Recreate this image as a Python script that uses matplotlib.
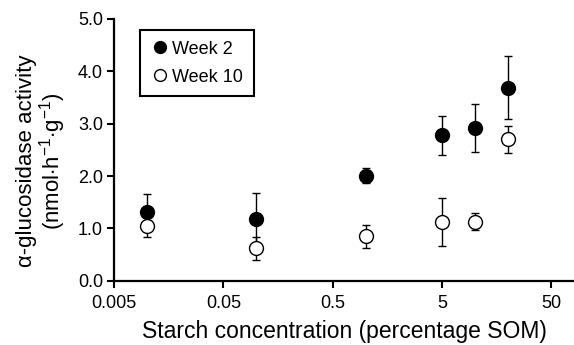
import matplotlib
matplotlib.use("Agg")
import matplotlib.pyplot as plt
from matplotlib.lines import Line2D
from matplotlib.ticker import FixedLocator, FixedFormatter, NullLocator

plt.rcParams['font.family'] = ['Liberation Sans', 'DejaVu Sans']
plt.rcParams['mathtext.fontset'] = 'custom'
plt.rcParams['mathtext.rm'] = 'Liberation Sans'
plt.rcParams['mathtext.it'] = 'Liberation Sans:italic'

# starch concentration (% SOM)
starch = [0.01, 0.1, 1, 5, 10, 20]
# alpha-glucosidase activity, means and error
week2 = [1.32, 1.19, 2.01, 2.78, 2.92, 3.69]
week2_err = [0.33, 0.48, 0.15, 0.37, 0.46, 0.60]
week10 = [1.04, 0.62, 0.85, 1.13, 1.13, 2.70]
week10_err = [0.21, 0.22, 0.22, 0.46, 0.16, 0.25]

xticks = [0.005, 0.05, 0.5, 5, 50]
xticklabels = ['0.005', '0.05', '0.5', '5', '50']
yticks = [0, 1, 2, 3, 4, 5]

fig = plt.figure(figsize=(5.74, 3.45), dpi=100)
ax = fig.add_axes([0.199, 0.186, 0.801, 0.759])

ax.errorbar(starch, week2, yerr=week2_err, fmt='o', color='black', mfc='black',
            mec='black', ms=10, elinewidth=1, capsize=3, capthick=1, zorder=3)
ax.errorbar(starch, week10, yerr=week10_err, fmt='o', color='black', mfc='white',
            mec='black', ms=10, elinewidth=1, capsize=3, capthick=1, mew=1, zorder=4)

ax.set_xscale('log')
ax.set_xlim(0.005, 81)
ax.set_ylim(0, 5)
ax.xaxis.set_major_locator(FixedLocator(xticks))
ax.xaxis.set_major_formatter(FixedFormatter(xticklabels))
ax.xaxis.set_minor_locator(NullLocator())
ax.set_yticks(yticks)
ax.set_yticklabels(['%.1f' % v for v in yticks])

for s in ['top', 'right']:
    ax.spines[s].set_visible(False)
for s in ['left', 'bottom']:
    ax.spines[s].set_linewidth(1.6)
ax.tick_params(axis='both', direction='out', length=5, width=1.5, labelsize=13)
ax.tick_params(axis='x', pad=5)
ax.tick_params(axis='y', pad=3)

ax.set_xlabel('Starch concentration (percentage SOM)', fontsize=16.5, labelpad=6)
ax.set_ylabel('α-glucosidase activity\n(nmol$\\cdot$h$^{-1}$$\\cdot$g$^{-1}$)',
              fontsize=16, linespacing=1.0)
ax.yaxis.set_label_coords(-0.1, 0.457)

handles = [
    Line2D([], [], ls='none', marker='o', ms=8.5, mfc='black', mec='black'),
    Line2D([], [], ls='none', marker='o', ms=8.5, mfc='white', mec='black', mew=1),
]
leg = ax.legend(handles, ['Week 2', 'Week 10'], loc='upper left',
                bbox_to_anchor=(0.057, 0.958), borderaxespad=0,
                fontsize=13, frameon=True, fancybox=False, edgecolor='black',
                handletextpad=0.15, borderpad=0.6, labelspacing=0.6,
                handlelength=1.0, framealpha=1)
leg.get_frame().set_linewidth(1.5)

fig.savefig('out.png', dpi=100)
